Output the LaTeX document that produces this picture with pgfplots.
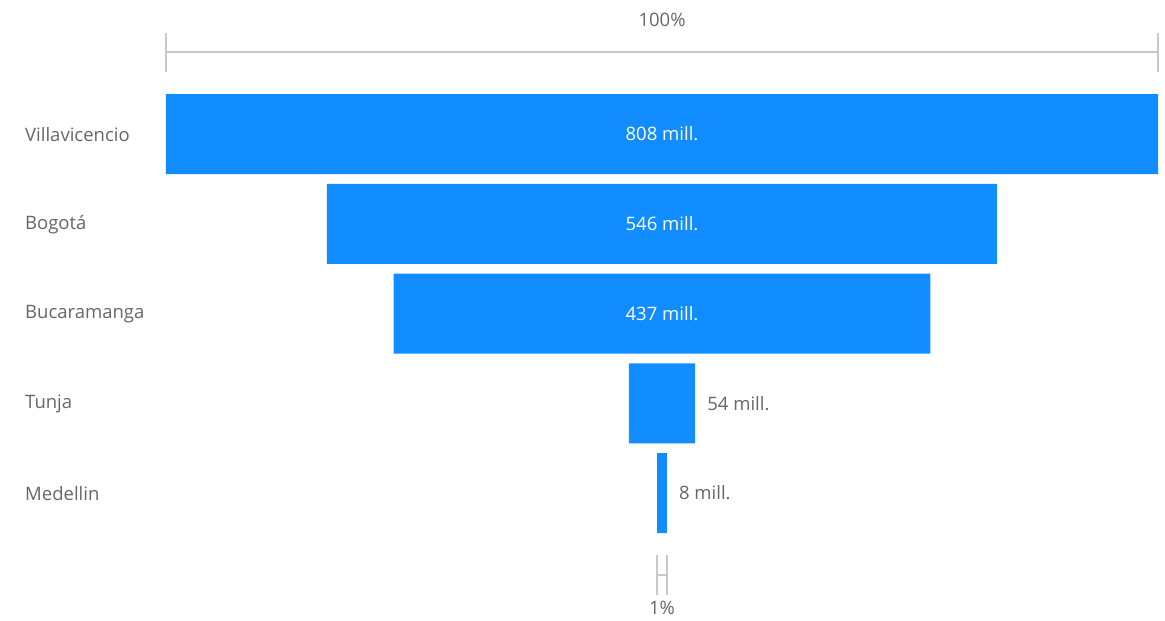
\documentclass[border=0pt]{standalone}
\usepackage{fontspec}
\setmainfont{Open Sans}
\usepackage{pgfplots}
\pgfplotsset{compat=1.18}
\definecolor{barblue}{HTML}{118DFF}
\definecolor{scalegray}{HTML}{C8C8C8}
\definecolor{labgray}{HTML}{666666}

\begin{document}
\begin{tikzpicture}
% page frame, 1 px = 1 pt
\path (0pt,0pt) rectangle (1165pt,-621pt);

\pgfplotsset{funnel/.style={
  at={(166pt,-89.125pt)}, anchor=north west,
  scale only axis, width=992pt, height=448.75pt,
  xmin=0, xmax=808, ymin=-0.5, ymax=4.5, y dir=reverse,
  clip=false,
  font=\fontsize{18.5}{22}\selectfont,
}}

\begin{axis}[funnel,
  xbar stacked, bar width=80pt,
  axis line style={draw=none}, tick style={draw=none},
  xtick=\empty, ytick={0,...,4},
  yticklabels={Villavicencio, Bogotá, Bucaramanga, Tunja, Medellin},
  yticklabel style={anchor=west, xshift=-141pt, yshift=-1pt, inner sep=0pt, text=labgray},
]
% invisible offsets, (808 - value)/2
\addplot[draw=none, fill=none] coordinates {(0,0) (131,1) (185.5,2) (377,3) (400,4)};
% values, in millions
\addplot[draw=none, fill=barblue] coordinates {(808,0) (546,1) (437,2) (54,3) (8,4)};
\end{axis}

\begin{axis}[funnel, hide axis]
\addplot[only marks, mark=none, nodes near coords, point meta=explicit symbolic,
  every node near coord/.append style={anchor=center, text=white, inner sep=0pt}]
  coordinates {(404,0) [808 mill.] (404,1) [546 mill.] (404,2) [437 mill.]};
\addplot[only marks, mark=none, nodes near coords, point meta=explicit symbolic,
  every node near coord/.append style={anchor=west, xshift=12pt, text=labgray, inner sep=0pt}]
  coordinates {(431,3) [54 mill.] (408,4) [8 mill.]};
\end{axis}

% 100% scale on top
\draw[scalegray, line width=1.3pt] (166pt,-52pt) -- (1158pt,-52pt);
\draw[scalegray, line width=1.3pt] (166pt,-33pt) -- (166pt,-72pt);
\draw[scalegray, line width=1.3pt] (1158pt,-33pt) -- (1158pt,-72pt);
\node[text=labgray, font=\fontsize{18.5}{22}\selectfont] at (662pt,-20pt) {100\%};
% 1% scale at the bottom
\draw[scalegray, line width=1.1pt] (657pt,-555pt) -- (657pt,-595pt);
\draw[scalegray, line width=1.1pt] (667pt,-555pt) -- (667pt,-595pt);
\draw[scalegray, line width=1.1pt] (657pt,-575pt) -- (667pt,-575pt);
\node[text=labgray, font=\fontsize{18.5}{22}\selectfont] at (662pt,-608pt) {1\%};
\end{tikzpicture}
\end{document}
